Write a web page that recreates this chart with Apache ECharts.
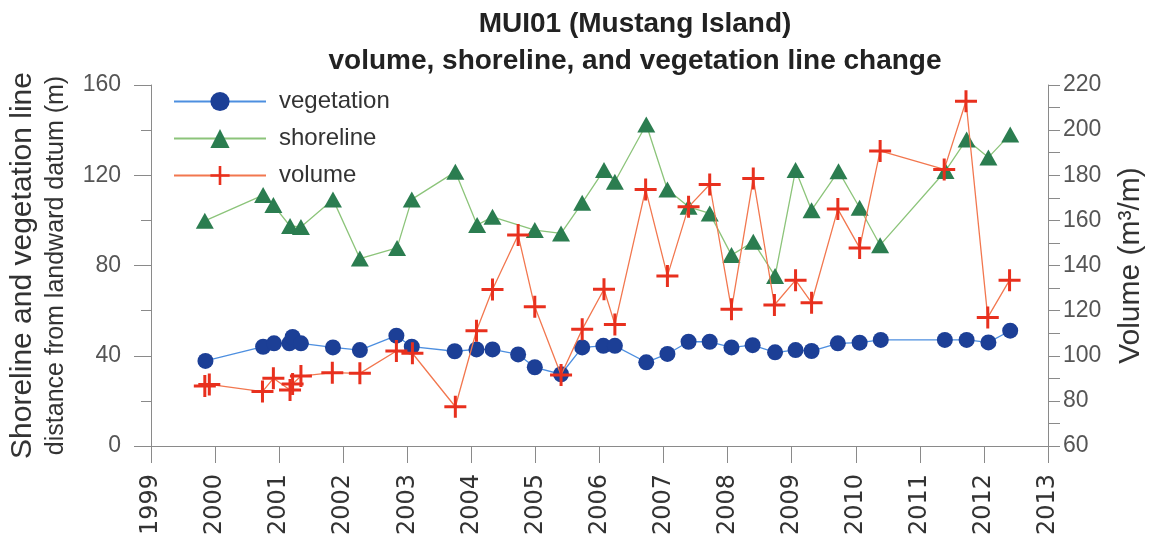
<!DOCTYPE html>
<html><head><meta charset="utf-8">
<script src="https://cdn.jsdelivr.net/npm/echarts@6/dist/echarts.min.js"></script>
<style>html,body{margin:0;padding:0;background:#fff}#c{width:1164px;height:542px}</style>
</head><body><div id="c"></div>
<script>
const titleLines = ['MUI01 (Mustang Island)', 'volume, shoreline, and vegetation line change'];
const yearTicks = [1999, 2013, 1];
const vegDates = [1999.85, 2000.75, 2000.92, 2001.16, 2001.21, 2001.34, 2001.84, 2002.26, 2002.83, 2003.07, 2003.74, 2004.08, 2004.33, 2004.73, 2004.99, 2005.40, 2005.73, 2006.06, 2006.24, 2006.73, 2007.06, 2007.39, 2007.72, 2008.06, 2008.39, 2008.74, 2009.06, 2009.31, 2009.72, 2010.06, 2010.39, 2011.39, 2011.73, 2012.07, 2012.41];
const vegValues = [37.7, 44.0, 45.5, 45.5, 48.3, 45.5, 43.7, 42.5, 48.9, 44.0, 42.0, 42.8, 42.8, 40.6, 34.9, 31.8, 43.7, 44.4, 44.4, 37.1, 40.8, 46.2, 46.2, 43.7, 44.7, 41.5, 42.5, 42.1, 45.5, 45.8, 47.0, 47.0, 47.0, 45.9, 51.1];
const shoreDates = [1999.84, 2000.75, 2000.91, 2001.17, 2001.34, 2001.84, 2002.26, 2002.84, 2003.07, 2003.75, 2004.09, 2004.33, 2004.99, 2005.40, 2005.73, 2006.07, 2006.24, 2006.73, 2007.06, 2007.39, 2007.72, 2008.06, 2008.40, 2008.74, 2009.06, 2009.31, 2009.73, 2010.06, 2010.38, 2011.40, 2011.73, 2012.07, 2012.41];
const shoreValues = [99.8, 111.2, 106.8, 97.5, 97.1, 109.3, 83.1, 87.8, 109.3, 121.5, 97.9, 101.6, 95.7, 94.2, 107.8, 122.3, 117.1, 142.5, 113.7, 106.0, 103.1, 84.6, 90.5, 75.3, 122.3, 104.5, 121.8, 105.6, 89.0, 121.9, 135.9, 127.9, 138.1];
const volDates = [1999.84, 1999.91, 2000.74, 2000.91, 2001.17, 2001.21, 2001.34, 2001.83, 2002.26, 2002.83, 2003.08, 2003.75, 2004.08, 2004.33, 2004.73, 2004.99, 2005.40, 2005.73, 2006.07, 2006.24, 2006.72, 2007.06, 2007.39, 2007.72, 2008.06, 2008.40, 2008.73, 2009.06, 2009.31, 2009.72, 2010.06, 2010.38, 2011.38, 2011.72, 2012.06, 2012.40];
const volValues = [86.6, 87.3, 84.1, 90.0, 84.8, 87.5, 91.0, 92.5, 92.2, 102.1, 101.1, 77.4, 111.1, 129.4, 153.5, 121.7, 91.5, 111.7, 129.5, 113.9, 173.7, 135.4, 166.0, 175.9, 120.6, 178.6, 122.5, 133.5, 123.5, 165.0, 147.8, 190.8, 182.6, 212.8, 117.0, 133.5];
const seriesNames = ['vegetation', 'shoreline', 'volume'];
const leftAxisName = ['Shoreline and vegetation line', 'distance from landward datum (m)'];
const rightAxisName = 'Volume (m\u00B3/m)';

const pair = (xs, ys) => xs.map((x, i) => [x, ys[i]]);
const crossPath = 'path://M0,9.5L9.5,9.5L9.5,0L12.5,0L12.5,9.5L22,9.5L22,12.5L12.5,12.5L12.5,22L9.5,22L9.5,12.5L0,12.5Z';
const FONT = 'Liberation Sans';
const axisGray = '#8a8a8a';

const chart = echarts.init(document.getElementById('c'), null, {renderer: 'canvas'});
chart.setOption({
  backgroundColor: '#fff',
  animation: false,
  title: {
    text: titleLines.join('\n'),
    left: 630, top: 1, textAlign: 'center',
    textStyle: {fontFamily: FONT, fontWeight: 'bold', fontSize: 28, lineHeight: 37, color: '#222'}
  },
  legend: {
    orient: 'vertical', left: 168, top: 83, itemGap: 10,
    itemWidth: 92, itemHeight: 24,
    textStyle: {fontFamily: FONT, fontSize: 24, color: '#333', padding: [0, 0, 0, 8], lineHeight: 27},
    data: seriesNames
  },
  grid: {left: 148, right: 116, top: 85, bottom: 96, containLabel: false},
  xAxis: {
    type: 'value', min: yearTicks[0], max: yearTicks[1], interval: yearTicks[2],
    axisLine: {lineStyle: {color: axisGray}},
    axisTick: {show: true, length: 17, lineStyle: {color: axisGray}},
    splitLine: {show: false},
    axisLabel: {rotate: 90, fontFamily: 'DejaVu Sans', fontSize: 24, color: '#333', margin: 28,
      formatter: v => String(v)}
  },
  yAxis: [{
    type: 'value', min: 0, max: 160, interval: 40, position: 'left',
    name: '{a|' + leftAxisName[0] + '}\n{b|' + leftAxisName[1] + '}',
    nameLocation: 'middle', nameRotate: 90, nameGap: 80,
    nameTextStyle: {rich: {
      a: {fontFamily: FONT, fontSize: 30, color: '#333', lineHeight: 36},
      b: {fontFamily: FONT, fontSize: 25, color: '#333', lineHeight: 30}
    }},
    axisLine: {show: true, lineStyle: {color: axisGray}},
    axisTick: {show: true, length: 17, lineStyle: {color: axisGray}},
    minorTick: {show: true, splitNumber: 2, length: 10, lineStyle: {color: axisGray}},
    splitLine: {show: false},
    axisLabel: {fontFamily: FONT, fontSize: 23, color: '#555', margin: 30}
  }, {
    type: 'value', min: 60, max: 220, interval: 20, position: 'right',
    name: rightAxisName, nameLocation: 'middle', nameRotate: 90, nameGap: 68,
    nameTextStyle: {fontFamily: FONT, fontSize: 30, color: '#333'},
    axisLine: {show: true, lineStyle: {color: axisGray}},
    axisTick: {show: true, length: 12, lineStyle: {color: axisGray}},
    minorTick: {show: true, splitNumber: 2, length: 12, lineStyle: {color: axisGray}},
    splitLine: {show: false},
    axisLabel: {fontFamily: FONT, fontSize: 23, color: '#555', margin: 15}
  }],
  series: [{
    name: seriesNames[0], type: 'line', yAxisIndex: 0, data: pair(vegDates, vegValues),
    symbol: 'circle', symbolSize: 16,
    lineStyle: {color: '#4d8fe0', width: 1.3},
    itemStyle: {color: '#1c3f96'}, z: 3
  }, {
    name: seriesNames[1], type: 'line', yAxisIndex: 0, data: pair(shoreDates, shoreValues),
    symbol: 'triangle', symbolSize: [18, 16],
    lineStyle: {color: '#8cc47a', width: 1.3},
    itemStyle: {color: '#2b7d50'}, z: 2
  }, {
    name: seriesNames[2], type: 'line', yAxisIndex: 1, data: pair(volDates, volValues),
    symbol: crossPath, symbolSize: 22,
    lineStyle: {color: '#f2774f', width: 1.3},
    itemStyle: {color: '#e8301e'}, z: 4
  }]
});
</script></body></html>
